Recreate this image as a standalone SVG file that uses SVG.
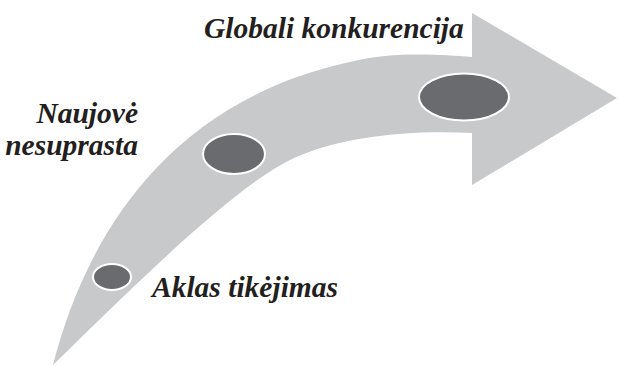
<svg xmlns="http://www.w3.org/2000/svg" width="619" height="366" viewBox="0 0 619 366">
<style>
.dot{fill:#6a6b6e;stroke:#ffffff;stroke-width:2}
.lbl{font-family:"Liberation Serif","Times New Roman",serif;font-style:italic;font-weight:bold;font-size:29.5px;fill:#231f20}
</style>
<rect width="619" height="366" fill="#ffffff"/>
<g id="arrow">
<path d="M53,365 C85,240 165,102 350,62 C395,51 440,55 472,57 L472,13 L617,98 L472,185 L472,133 C410,130 340,136 290,160 C230,190 130,290 53,365 Z" fill="#c8c9ca"/>
</g>
<g id="connectors"></g>
<g id="node-aklas">
<ellipse class="dot" cx="112" cy="277" rx="19" ry="13"/>
<text class="lbl" x="152" y="297">Aklas tikėjimas</text>
</g>
<g id="node-naujove">
<ellipse class="dot" cx="234" cy="154" rx="31" ry="20"/>
<text class="lbl" x="138" y="123" text-anchor="end">Naujovė</text>
<text class="lbl" x="138" y="155" text-anchor="end">nesuprasta</text>
</g>
<g id="node-globali">
<ellipse class="dot" cx="464" cy="97" rx="45" ry="23.5"/>
<text class="lbl" x="204" y="38">Globali konkurencija</text>
</g>
</svg>
